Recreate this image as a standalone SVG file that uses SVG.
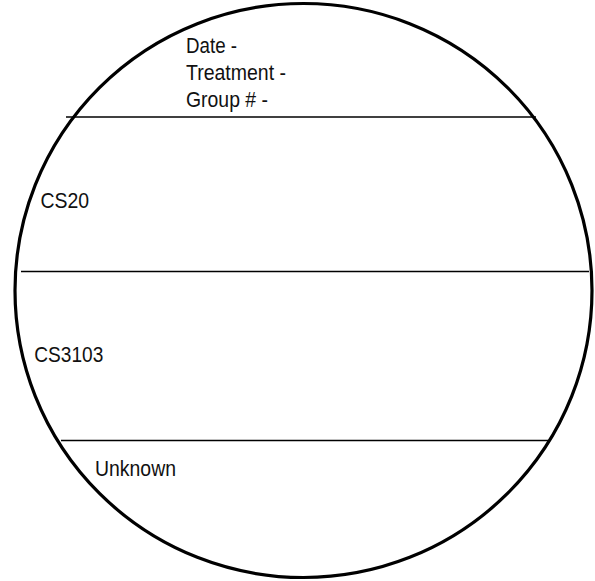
<svg xmlns="http://www.w3.org/2000/svg" width="595" height="581" viewBox="0 0 595 581">
<style>
.t{font-family:"Liberation Sans",Arial,sans-serif;font-size:22px;fill:#111;}
.l{stroke:#000;stroke-width:1.3;fill:none;}
</style>
<rect width="595" height="581" fill="#fff"/>
<g id="connectors">
<line class="l" x1="66" y1="117" x2="536" y2="117"/>
<line class="l" x1="21" y1="271.5" x2="589" y2="271.5"/>
<line class="l" x1="61" y1="440.5" x2="548" y2="440.5"/>
</g>
<g id="plate">
<ellipse cx="303.5" cy="290.5" rx="288.5" ry="287" fill="none" stroke="#000" stroke-width="3.2"/>
</g>
<g id="header">
<text class="t" x="186" y="52.5" textLength="51" lengthAdjust="spacingAndGlyphs">Date -</text>
<text class="t" x="186" y="80" textLength="100" lengthAdjust="spacingAndGlyphs">Treatment -</text>
<text class="t" x="186" y="107" textLength="82" lengthAdjust="spacingAndGlyphs">Group # -</text>
</g>
<g id="cs20"><text class="t" x="40.5" y="208.3" textLength="48.6" lengthAdjust="spacingAndGlyphs">CS20</text></g>
<g id="cs3103"><text class="t" x="34.3" y="361.7" textLength="69" lengthAdjust="spacingAndGlyphs">CS3103</text></g>
<g id="unknown"><text class="t" x="95" y="476" textLength="81" lengthAdjust="spacingAndGlyphs">Unknown</text></g>
</svg>
